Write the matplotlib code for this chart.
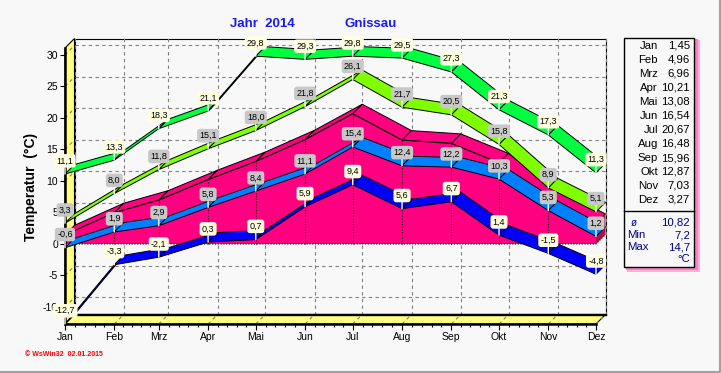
import numpy as np
import matplotlib
matplotlib.use('Agg')
import matplotlib.pyplot as plt
from matplotlib.patches import Polygon, Rectangle
from matplotlib.lines import Line2D

plt.rcParams['font.family'] = ['Liberation Sans', 'DejaVu Sans']
plt.rcParams['axes.unicode_minus'] = False

# Monthly values 2014, Gnissau
months = ['Jan', 'Feb', 'Mrz', 'Apr', 'Mai', 'Jun', 'Jul', 'Aug', 'Sep', 'Okt', 'Nov', 'Dez']
month_days = [31, 28, 31, 30, 31, 30, 31, 31, 30, 31, 30, 31]
abs_max = [11.1, 13.3, 18.3, 21.1, 29.8, 29.3, 29.8, 29.5, 27.3, 21.3, 17.3, 11.3]
mean_max = [3.3, 8.0, 11.8, 15.1, 18.0, 21.8, 26.1, 21.7, 20.5, 15.8, 8.9, 5.1]
mean_temp = [1.45, 4.96, 6.96, 10.21, 13.08, 16.54, 20.67, 16.48, 15.96, 12.87, 7.03, 3.27]
mean_min = [-0.6, 1.9, 2.9, 5.8, 8.4, 11.1, 15.4, 12.4, 12.2, 10.3, 5.3, 1.2]
abs_min = [-12.7, -3.3, -2.1, 0.3, 0.7, 5.9, 9.4, 5.6, 6.7, 1.4, -1.5, -4.8]
year_stats = [('ø', '10,82'), ('Min', '7,2'), ('Max', '14,7')]

# x position = day of year of the 1st of each month
days = np.concatenate([[0], np.cumsum(month_days)[:-1]])

W, H = 721, 373
BG = '#F8F8F8'
WALL = '#FFFF80'

def fx(px):
    return px / W

def fy(py):
    return 1 - py / H

fig = plt.figure(figsize=(W / 100, H / 100), dpi=100, facecolor=BG)
ax = fig.add_axes([fx(65), fy(324), 531 / W, 276 / H])
ax.set_facecolor('none')
xmin, xmax = 0, days[-1]
ymin, ymax = -12.7, 31.1
ax.set_xlim(xmin, xmax)
ax.set_ylim(ymin, ymax)

# 3D depth offset (9.5 px right and up) in data units
DX = 9.5 * (xmax - xmin) / 531
DY = 9.5 * (ymax - ymin) / 276

# back wall
ax.add_patch(Rectangle((xmin + DX, ymin + DY), xmax - xmin, ymax - ymin,
                       fc=BG, ec='black', lw=0.8, zorder=0.2, clip_on=False))

# grid on back wall, floor and left wall
gkw = dict(color='#808080', lw=0.8, ls=(0, (3, 3)), zorder=0.4, clip_on=False)
for y in range(-10, 31, 5):
    ax.add_line(Line2D([xmin + DX, xmax + DX], [y + DY, y + DY], **gkw))
for x in days:
    ax.add_line(Line2D([x + DX, x + DX], [ymin + DY, ymax + DY], **gkw))

# left wall and floor
ax.add_patch(Polygon([(xmin, ymin), (xmin, ymax), (xmin + DX, ymax + DY), (xmin + DX, ymin + DY)],
                     fc=WALL, ec='black', lw=0.8, zorder=0.6, clip_on=False))
ax.add_patch(Polygon([(xmin, ymin), (xmax, ymin), (xmax + DX, ymin + DY), (xmin + DX, ymin + DY)],
                     fc=WALL, ec='black', lw=0.8, zorder=0.6, clip_on=False))
ax.add_line(Line2D([xmin + DX, xmax + DX], [ymin + DY, ymin + DY], color='black', lw=1.7,
                   zorder=0.7, clip_on=False))
for y in range(-10, 31, 5):
    ax.add_line(Line2D([xmin, xmin + DX], [y, y + DY], **dict(gkw, zorder=0.65)))
for x in days:
    ax.add_line(Line2D([x, x + DX], [ymin, ymin + DY], **dict(gkw, zorder=0.65)))


def ribbon(xs, ys, color, z):
    for i in range(len(xs) - 1):
        pts = [(xs[i], ys[i]), (xs[i + 1], ys[i + 1]),
               (xs[i + 1] + DX, ys[i + 1] + DY), (xs[i] + DX, ys[i] + DY)]
        ax.add_patch(Polygon(pts, fc=color, ec='black', lw=0.7, zorder=z, clip_on=False))


def labels(xs, ys, fc, fmt='{:.1f}'):
    for x, y in zip(xs, ys):
        ax.annotate(fmt.format(y).replace('.', ','), (x, y), xytext=(0, 9.5),
                    textcoords='offset points', ha='center', va='center', fontsize=6.5,
                    bbox=dict(boxstyle='round,pad=0.25,rounding_size=0.3', fc=fc, ec='none'),
                    arrowprops=dict(arrowstyle='-', color='white', lw=1, shrinkA=0, shrinkB=0),
                    zorder=20, annotation_clip=False)


# mean temperature as 3D area
PINK = '#FF0080'
for i in range(len(days) - 1):
    pts = [(days[i], mean_temp[i]), (days[i + 1], mean_temp[i + 1]),
           (days[i + 1] + DX, mean_temp[i + 1] + DY), (days[i] + DX, mean_temp[i] + DY)]
    ax.add_patch(Polygon(pts, fc=PINK, ec='black', lw=0.7, zorder=3, clip_on=False))
front = list(zip(days, mean_temp)) + [(xmax, 0), (xmin, 0)]
ax.add_patch(Polygon(front, fc=PINK, ec='none', zorder=3.1, clip_on=False))
ax.plot(days, mean_temp, color='black', lw=0.8, zorder=3.2)
ax.add_patch(Polygon([(xmax, 0), (xmax, mean_temp[-1]), (xmax + DX, mean_temp[-1] + DY), (xmax + DX, DY)],
                     fc='#B0104A', ec='none', zorder=3.1, clip_on=False))
ax.plot([xmin, xmax, xmax + DX], [0, 0, DY], color='black', lw=0.8, ls=(0, (1, 1.5)), zorder=3.2,
        clip_on=False)
for x, m in zip(days[1:-1], mean_temp[1:-1]):
    ax.plot([x, x], [0, m], color='black', lw=0.8, ls=(0, (1, 1.5)), zorder=3.2)

# min / max ribbons
ribbon(days, mean_min, '#0080FF', 4)
ribbon(days, abs_min, '#0000FF', 5)
ribbon(days, mean_max, '#80FF00', 6)
ribbon(days, abs_max, '#00FF40', 7)

labels(days, abs_max, '#FFFFE0')
labels(days, mean_max, '#C8C8C8')
labels(days, mean_min, '#C8C8C8')
labels(days, abs_min, '#FFFFE0')

# axes
for s in ['top', 'right']:
    ax.spines[s].set_visible(False)
for s in ['left', 'bottom']:
    ax.spines[s].set_linewidth(1.8)
    ax.spines[s].set_zorder(8)
ax.set_xticks(days, months)
minor = [d + k * n / 5 for d, n in zip(days[:-1], month_days[:-1]) for k in range(1, 5)]
ax.set_xticks(minor, minor=True)
ax.set_yticks(range(-10, 31, 5))
ax.tick_params(axis='x', which='major', length=4, width=0.8, pad=2, labelsize=7.5)
ax.tick_params(axis='x', which='minor', length=2.5, width=0.8)
ax.tick_params(axis='y', length=3.5, width=0.8, pad=1.5, labelsize=7.5)

# titles
fig.text(fx(262), fy(24), 'Jahr  2014', color='#1A1AF0', weight='bold', fontsize=9.5,
         ha='center', va='center')
fig.text(fx(371), fy(24), 'Gnissau', color='#1A1AF0', weight='bold', fontsize=9.5,
         ha='center', va='center')
fig.text(fx(31), fy(187), 'Temperatur  (°C)', rotation=90, weight='bold', fontsize=10,
         ha='center', va='center')
fig.text(fx(25), fy(354), '© WsWin32  02.01.2015', color='red', weight='bold', fontsize=5,
         ha='left', va='center')

# legend box with monthly means
fig.patches.append(Rectangle((fx(627), fy(272)), 73 / W, 232 / H, transform=fig.transFigure,
                             fc='#FFB0D8', ec='none', zorder=1))
fig.patches.append(Rectangle((fx(626), fy(270)), 72 / W, 231 / H, transform=fig.transFigure,
                             fc='#FF80C0', ec='none', zorder=1.1))
fig.patches.append(Rectangle((fx(624), fy(267)), 70 / W, 229 / H, transform=fig.transFigure,
                             fc=BG, ec='black', lw=1, zorder=1.2))
fig.lines.append(Line2D([fx(624), fx(694)], [fy(211), fy(211)], transform=fig.transFigure,
                        color='black', lw=1))
for i, (m, v) in enumerate(zip(months, mean_temp)):
    yy = fy(46 + i * 14)
    fig.text(fx(658), yy, m, fontsize=8.2, ha='right', va='center')
    fig.text(fx(690), yy, f'{v:.2f}'.replace('.', ','), fontsize=8.2, ha='right', va='center')
for i, (k, v) in enumerate(year_stats):
    yy = fy(223 + i * 12)
    fig.text(fx(627) if k != 'ø' else fx(631), yy, k, fontsize=8.2 if k != 'ø' else 7,
             color='#000080', ha='left', va='center')
    fig.text(fx(690), yy, v, fontsize=8.2, color='#000080', ha='right', va='center')
fig.text(fx(690), fy(259), '°C', fontsize=8.2, color='#000080', ha='right', va='center')

# image border
fig.lines.append(Line2D([fx(0), fx(719.5), fx(719.5)], [fy(371.5), fy(371.5), fy(0)],
                        transform=fig.transFigure, color='#A0A0A0', lw=1.5))

fig.savefig('out.png', dpi=100, facecolor=BG)
